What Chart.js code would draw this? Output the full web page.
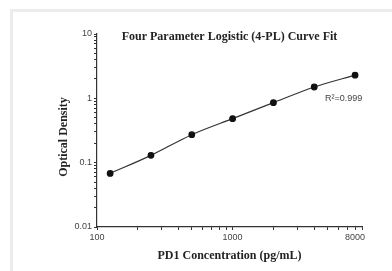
<!DOCTYPE html>
<html>
<head>
<meta charset="utf-8">
<script src="https://cdn.jsdelivr.net/npm/chart.js@4.4.1/dist/chart.umd.min.js"></script>
<style>
    html, body { margin: 0; padding: 0; background: #fff; }
    #wrap { position: relative; width: 392px; height: 271px; }
    #frame { position: absolute; left: 10px; top: 9px; right: 0; bottom: 0;
             border-left: 3px solid #ececec; border-top: 3px solid #ececec; }
    #chart { position: absolute; left: 0; top: 0; }
</style>
</head>
<body>
<div id="wrap">
    <div id="frame"></div>
    <canvas id="chart" width="392" height="271"></canvas>
</div>
<script>
var concentration = [125, 250, 500, 1000, 2000, 4000, 8000];
var density = [0.068, 0.13, 0.272, 0.483, 0.857, 1.5, 2.29];

var xTicks = [100, 200, 300, 400, 500, 600, 700, 800, 900, 1000, 2000, 3000, 4000, 5000, 6000, 7000, 8000, 9000];
var xLabels = [100, 1000, 8000];
var yTicks = [0.01, 0.02, 0.03, 0.04, 0.05, 0.06, 0.07, 0.08, 0.09,
              0.1, 0.2, 0.3, 0.4, 0.5, 0.6, 0.7, 0.8, 0.9,
              1, 2, 3, 4, 5, 6, 7, 8, 9, 10];
var yLabels = [0.01, 0.1, 1, 10];

var points = concentration.map((c, i) => ({ x: c, y: density[i] }));
var ctx = document.getElementById("chart");

// titulo, R2 y titulo del eje Y
var overlay = {
    id: "overlay",
    afterDraw(chart) {
        const c = chart.ctx;
        const a = chart.chartArea;
        c.save();
        c.fillStyle = "#222";
        c.textAlign = "center";
        c.textBaseline = "middle";
        c.font = "bold 12px 'Liberation Serif', 'Times New Roman', serif";
        c.fillText("Four Parameter Logistic (4-PL) Curve Fit", (a.left + a.right) / 2, a.top + 3);

        c.save();
        c.translate(64, 137);
        c.rotate(-Math.PI / 2);
        c.fillText("Optical Density", 0, 0);
        c.restore();

        c.font = "9px 'Liberation Sans', Arial, sans-serif";
        c.fillStyle = "#444";
        c.textAlign = "left";
        c.fillText("R\u00b2=0.999", 325, 99);
        c.restore();
    },
};

new Chart(ctx, {
    type: "scatter",
    data: {
        datasets: [
            {
                label: "OD",
                data: points,
                showLine: true,
                borderColor: "#333",
                borderWidth: 1.2,
                tension: 0.3,
                pointRadius: 2.8,
                pointBackgroundColor: "#111",
                pointBorderColor: "#111",
            },
        ],
    },
    plugins: [overlay],
    options: {
        responsive: false,
        animation: false,
        layout: {
            padding: { left: 52, right: 30, top: 34, bottom: 8 },
        },
        plugins: {
            legend: { display: false },
            tooltip: { enabled: false },
        },
        scales: {
            x: {
                type: "logarithmic",
                min: 100,
                max: 9000,
                afterBuildTicks: (scale) => {
                    scale.ticks = xTicks.map((v) => ({ value: v }));
                },
                afterFit: (scale) => {
                    scale.height = 36;
                },
                ticks: {
                    autoSkip: false,
                    maxRotation: 0,
                    padding: 2,
                    color: "#444",
                    font: { family: "'Liberation Sans', Arial, sans-serif", size: 9 },
                    callback: (v) => (xLabels.includes(v) ? String(v) : ""),
                },
                grid: {
                    drawOnChartArea: false,
                    tickLength: 3,
                    tickColor: "#333",
                },
                border: { color: "#333", width: 1.2 },
                title: {
                    display: true,
                    text: "PD1 Concentration (pg/mL)",
                    color: "#222",
                    padding: { top: 2, bottom: 0 },
                    font: { family: "'Liberation Serif', 'Times New Roman', serif", size: 12, weight: "bold" },
                },
            },
            y: {
                type: "logarithmic",
                min: 0.01,
                max: 10,
                afterBuildTicks: (scale) => {
                    scale.ticks = yTicks.map((v) => ({ value: v }));
                },
                afterFit: (scale) => {
                    scale.width = 45;
                },
                ticks: {
                    autoSkip: false,
                    padding: 2,
                    color: "#444",
                    font: { family: "'Liberation Sans', Arial, sans-serif", size: 9 },
                    callback: (v) => (yLabels.includes(v) ? String(v) : ""),
                },
                grid: {
                    drawOnChartArea: false,
                    tickLength: 3,
                    tickColor: "#333",
                },
                border: { color: "#333", width: 1.2 },
            },
        },
    },
});
</script>
</body>
</html>
